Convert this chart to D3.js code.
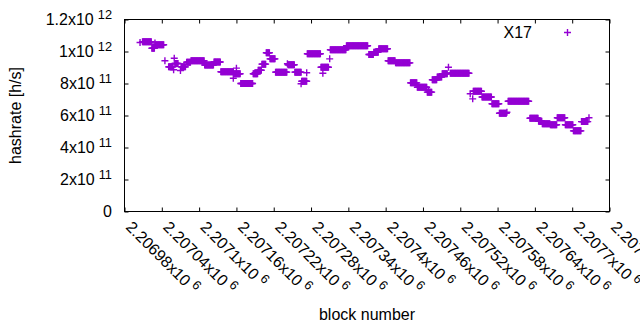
<!DOCTYPE html>
<html>
<head>
<meta charset="utf-8">
<script src="https://cdn.jsdelivr.net/npm/d3@7/dist/d3.min.js"></script>
<style>
body{margin:0;background:#fff;}
svg text{font-family:"Liberation Sans",Arial,sans-serif;font-size:16px;fill:#000;}
</style>
</head>
<body>
<div id="chart"></div>
<script>
// runs of blocks that share one hashrate estimate
var runFirstBlock = [2207005,2207009,2207024,2207029,2207030,2207045,2207051,2207059,2207060,2207061,
  2207070,2207071,2207080,2207087,2207109,2207124,2207135,2207155,2207156,2207160,
  2207167,2207187,2207190,2207195,2207201,2207208,2207214,2207223,2207242,2207243,
  2207254,2207264,2207265,2207273,2207274,2207296,2207299,2207310,2207311,2207337,
  2207373,2207381,2207389,2207404,2207416,2207440,2207451,2207467,2207469,2207475,
  2207483,2207491,2207501,2207504,2207536,2207540,2207541,2207555,2207571,2207583,
  2207595,2207597,2207632,2207646,2207652,2207665,2207676,2207689,2207702,2207715,
  2207727];
var runLastBlock = [2207005,2207023,2207028,2207029,2207043,2207045,2207058,2207059,2207060,2207066,
  2207070,2207078,2207086,2207108,2207123,2207134,2207155,2207155,2207166,2207160,
  2207186,2207194,2207190,2207200,2207207,2207213,2207222,2207241,2207242,2207253,
  2207264,2207264,2207273,2207273,2207295,2207308,2207299,2207310,2207336,2207371,
  2207380,2207388,2207403,2207415,2207439,2207450,2207466,2207474,2207469,2207482,
  2207490,2207499,2207501,2207534,2207536,2207540,2207554,2207570,2207582,2207594,
  2207595,2207630,2207645,2207651,2207664,2207675,2207688,2207701,2207714,2207725,
  2207727];
var runHashrate = [1056e9,1061e9,1020e9,1053e9,1042e9,942e9,904e9,886e9,958e9,925e9,
  881e9,904e9,933e9,942e9,916e9,934e9,873e9,833e9,861e9,896e9,
  800e9,861e9,867e9,883e9,921e9,992e9,954e9,871e9,923e9,917e9,
  871e9,798e9,814e9,867e9,986e9,902e9,864e9,954e9,1011e9,1036e9,
  981e9,996e9,1017e9,942e9,929e9,804e9,777e9,746e9,756e9,823e9,
  840e9,861e9,902e9,864e9,736e9,704e9,752e9,716e9,673e9,614e9,
  620e9,689e9,583e9,564e9,548e9,542e9,586e9,542e9,504e9,562e9,
  586e9];

var xTickBlocks = [2206980,2207040,2207100,2207160,2207220,2207280,2207340,
  2207400,2207460,2207520,2207580,2207640,2207700,2207760];
var xTickMantissa = ["2.20698","2.20704","2.2071","2.20716","2.20722","2.20728","2.20734",
  "2.2074","2.20746","2.20752","2.20758","2.20764","2.2077","2.20776"];
var yTickValues = [0,2e11,4e11,6e11,8e11,1e12,1.2e12];
var yTickMantissa = ["0","2x10","4x10","6x10","8x10","1x10","1.2x10"];
var yTickExponent = ["","11","11","11","11","12","12"];

var seriesName = "X17";
var color = "#9400d3";

drawChart();

function drawChart(){
  var width = 640, height = 330;
  var left = 124.5, right = 609.5, top = 19.5, bottom = 211.5;

  var svg = d3.select("#chart").append("svg")
    .attr("width", width)
    .attr("height", height);

  var x = d3.scaleLinear().domain([2206980, 2207760]).range([left, right]);
  var y = d3.scaleLinear().domain([0, 1.2e12]).range([bottom, top]);

  // expand the runs into one point per block
  var points = [];
  for (var i = 0; i < runFirstBlock.length; i++){
    for (var b = runFirstBlock[i]; b <= runLastBlock[i]; b++){
      points.push({block: b, hashrate: runHashrate[i]});
    }
  }

  // inward ticks on all four sides, like gnuplot
  function noDomain(g){ g.select(".domain").remove(); }
  svg.append("g").attr("transform", "translate(" + left + ",0)")
    .call(d3.axisRight(y).tickValues(yTickValues).tickSize(4).tickFormat(""))
    .call(noDomain);
  svg.append("g").attr("transform", "translate(" + right + ",0)")
    .call(d3.axisLeft(y).tickValues(yTickValues).tickSize(4).tickFormat(""))
    .call(noDomain);
  svg.append("g").attr("transform", "translate(0," + bottom + ")")
    .call(d3.axisTop(x).tickValues(xTickBlocks).tickSize(4).tickFormat(""))
    .call(noDomain);
  svg.append("g").attr("transform", "translate(0," + top + ")")
    .call(d3.axisBottom(x).tickValues(xTickBlocks).tickSize(4).tickFormat(""))
    .call(noDomain);
  svg.selectAll(".tick line").attr("stroke", "#000");

  svg.append("rect")
    .attr("x", left).attr("y", top)
    .attr("width", right - left).attr("height", bottom - top)
    .attr("fill", "none").attr("stroke", "#000").attr("stroke-width", 1);

  // y tick labels with superscript exponents
  var yLab = svg.append("g").selectAll("text")
    .data(yTickValues)
    .enter().append("text")
    .attr("x", 112)
    .attr("y", function(d){ return y(d) + 5.5; })
    .attr("text-anchor", "end");
  yLab.append("tspan").text(function(d, i){ return yTickMantissa[i]; });
  yLab.append("tspan")
    .attr("dx", 4).attr("dy", -6)
    .style("font-size", "12.8px")
    .text(function(d, i){ return yTickExponent[i]; });

  // rotated x tick labels
  var xLab = svg.append("g").selectAll("text")
    .data(xTickBlocks)
    .enter().append("text")
    .attr("transform", function(d){ return "translate(" + (x(d) + 0.5) + ",228) rotate(45)"; });
  xLab.append("tspan").text(function(d, i){ return xTickMantissa[i] + "x10"; });
  xLab.append("tspan")
    .attr("dx", 4).attr("dy", -6)
    .style("font-size", "12.8px")
    .text("6");

  svg.append("text")
    .attr("transform", "translate(21,115.5) rotate(-90)")
    .attr("text-anchor", "middle")
    .text("hashrate [h/s]");
  svg.append("text")
    .attr("x", (left + right) / 2).attr("y", 320)
    .attr("text-anchor", "middle")
    .text("block number");

  var plus = "M-3.5,0H3.5M0,-3.5V3.5";
  svg.append("g").selectAll("path")
    .data(points)
    .enter().append("path")
    .attr("d", plus)
    .attr("transform", function(d){ return "translate(" + x(d.block) + "," + y(d.hashrate) + ")"; })
    .attr("fill", "none")
    .attr("stroke", color)
    .attr("stroke-width", 1.4);

  // key
  svg.append("text")
    .attr("x", 532).attr("y", 37.5)
    .attr("text-anchor", "end")
    .text(seriesName);
  svg.append("path")
    .attr("d", plus)
    .attr("transform", "translate(567.5,32.5)")
    .attr("fill", "none")
    .attr("stroke", color)
    .attr("stroke-width", 1.4);
}
</script>
</body>
</html>
